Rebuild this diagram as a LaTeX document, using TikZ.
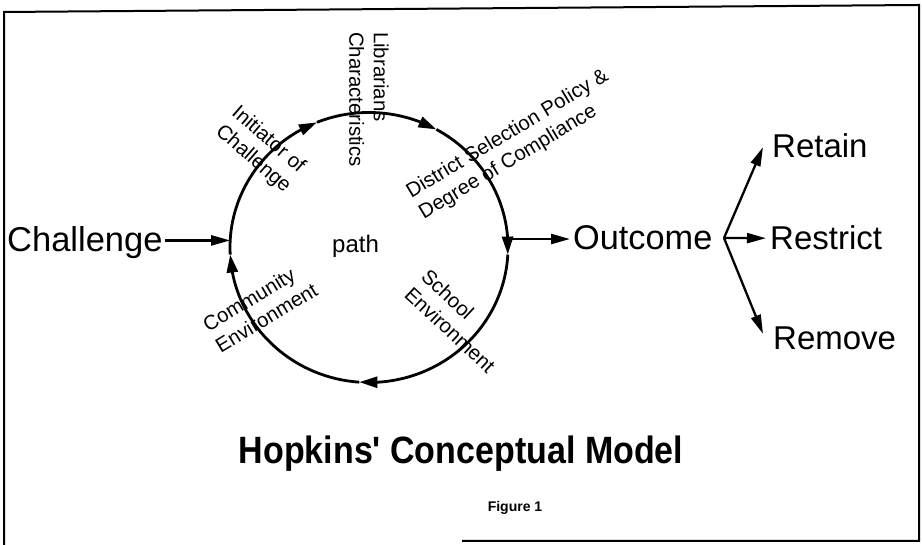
\documentclass[tikz,border=0pt]{standalone}
\usepackage{fontspec}
\setmainfont{Liberation Sans}
\usetikzlibrary{arrows.meta,bending,calc}
\begin{document}
\begin{tikzpicture}[x=1pt,y=1pt,
  lbl/.style={font=\fontsize{20.4}{24.5}\selectfont, inner sep=0pt, align=left},
  big/.style={font=\fontsize{33}{40}\selectfont, inner sep=0pt, anchor=base west},
  arr/.style={line width=2.3pt, -{Triangle[length=19pt,width=10pt]}},
  cyc/.style={line width=2.8pt, -{Triangle[length=18pt,width=11pt]}},
  frame/.style={line width=2pt}]
\useasboundingbox (0,0) rectangle (922,545);
\draw[frame] (4,0) -- (4,533) -- (919,540) -- (919,4) -- (462,4);

% cycle
\coordinate (C) at (369,297.5);
\path (C) ++(183:139pt and 135pt) coordinate (p0);
\path (C) ++(112:139pt and 135pt) coordinate (p1);
\path (C) ++(61:139pt and 135pt) coordinate (p2);
\path (C) ++(-3:139pt and 135pt) coordinate (p3);
\path (C) ++(-94:139pt and 135pt) coordinate (p4);
\path (C) ++(177:139pt and 135pt) coordinate (cin);
\path (C) ++(3.6:139pt and 135pt) coordinate (cout);
\draw[cyc] (p0) arc[start angle=183, end angle=112, x radius=139pt, y radius=135pt];
\draw[cyc] (p1) arc[start angle=112, end angle=61, x radius=139pt, y radius=135pt];
\draw[cyc] (p2) arc[start angle=61, end angle=-3, x radius=139pt, y radius=135pt];
\draw[cyc] (p3) arc[start angle=-3, end angle=-94, x radius=139pt, y radius=135pt];
\draw[cyc] (p4) arc[start angle=-94, end angle=-177, x radius=139pt, y radius=135pt];

% labels on the cycle
\node[lbl, rotate=-90] (lib) at (369,445.5) {Librarians\\Characteristics};
\node[lbl, rotate=-41] (ini) at (261,395) {Initiator of\\Challenge};
\node[lbl, rotate=31] (dis) at (514,400) {District Selection Policy \&\\Degree of Compliance};
\node[lbl, rotate=31] (com) at (260,238) {Community\\Environment};
\node[lbl, rotate=-43] (sch) at (458.5,224) {School\\Environment};
\node[font=\fontsize{24}{28}\selectfont, inner sep=0pt, anchor=base west] (path) at (332,292) {path};

% main words
\node[big, font=\fontsize{34.5}{40}\selectfont] (chal) at (7,293) {Challenge};
\node[big, font=\fontsize{34.3}{40}\selectfont] (out) at (573,295) {Outcome};
\node[big] (ret) at (772,387) {Retain};
\node[big] (res) at (770,295) {Restrict};
\node[big] (rem) at (773,195) {Remove};

\draw[arr] (chal.east |- cin) ++(2pt,0) -- (cin);
\draw[arr] (cout) ++(3pt,0) -- ($(out.west |- cout)+(-3pt,0)$);
\coordinate (B) at (724,307);
\draw[arr] (B) -- ($(ret.west)+(-9pt,-1pt)$);
\draw[arr] (B) -- ($(res.west)+(-4pt,0)$);
\draw[arr] (B) -- ($(rem.west)+(-10pt,5pt)$);

% captions
\node[font=\bfseries\fontsize{34}{40}\selectfont, inner sep=0pt] (title) at (461,91) {\scalebox{1}[1.12]{Hopkins\textquotesingle\ Conceptual Model}};
\node[font=\bfseries\fontsize{14}{16}\selectfont, inner sep=0pt] (fig) at (515,37) {Figure 1};
\end{tikzpicture}
\end{document}
